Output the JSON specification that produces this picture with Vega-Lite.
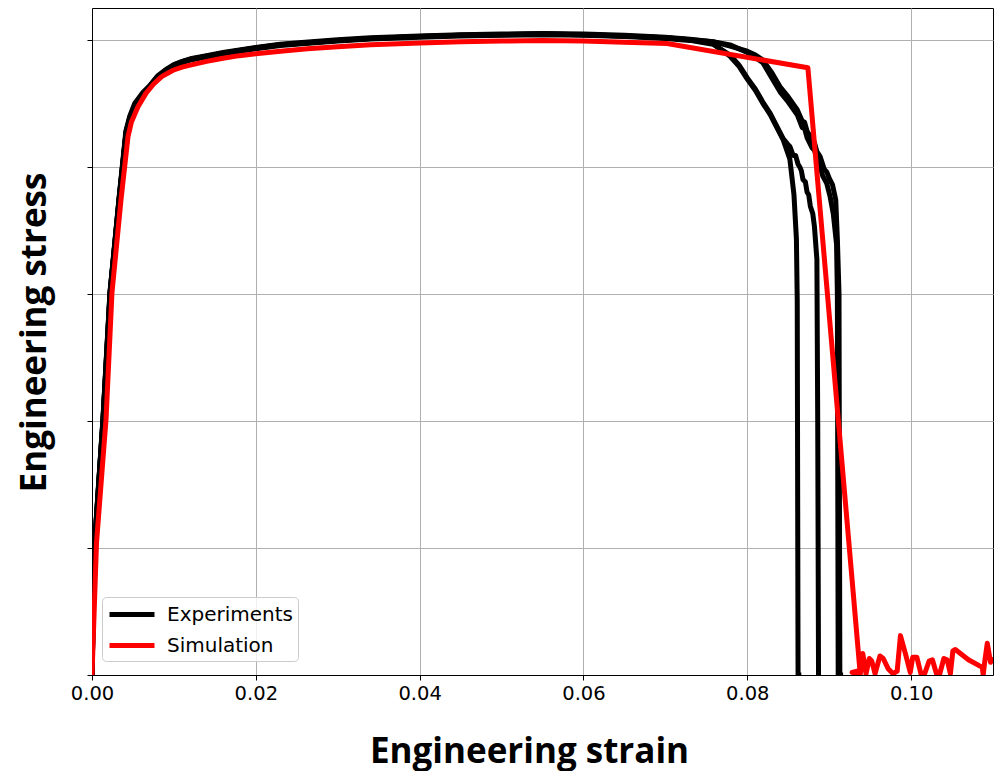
{
  "$schema": "https://vega.github.io/schema/vega-lite/v6.json",
  "width": 901,
  "height": 667,
  "autosize": {"type": "none"},
  "padding": {"left": 92, "top": 8, "right": 6, "bottom": 96},
  "background": "white",
  "config": {
    "view": {"stroke": "#000000", "strokeWidth": 1},
    "axis": {
      "domainColor": "#000000",
      "tickColor": "#000000",
      "gridColor": "#b0b0b0",
      "gridWidth": 1,
      "labelFont": "DejaVu Sans",
      "labelFontSize": 19.5,
      "labelColor": "#000000",
      "labelFlush": false,
      "titleFont": "Open Sans",
      "titleFontSize": 35,
      "titleFontWeight": "bold",
      "titleColor": "#000000"
    }
  },
  "data": {
    "values": [
      {"series": "Experiments", "run": "A", "order": 1, "strain": 0, "stress": 0},
      {"series": "Experiments", "run": "A", "order": 2, "strain": 0.00033, "stress": 104},
      {"series": "Experiments", "run": "A", "order": 3, "strain": 0.00134, "stress": 201},
      {"series": "Experiments", "run": "A", "order": 4, "strain": 0.0022, "stress": 301},
      {"series": "Experiments", "run": "A", "order": 5, "strain": 0.0033, "stress": 374},
      {"series": "Experiments", "run": "A", "order": 6, "strain": 0.00415, "stress": 427},
      {"series": "Experiments", "run": "A", "order": 7, "strain": 0.00464, "stress": 439},
      {"series": "Experiments", "run": "A", "order": 8, "strain": 0.00525, "stress": 449},
      {"series": "Experiments", "run": "A", "order": 9, "strain": 0.00623, "stress": 458},
      {"series": "Experiments", "run": "A", "order": 10, "strain": 0.007, "stress": 463},
      {"series": "Experiments", "run": "A", "order": 11, "strain": 0.008, "stress": 471},
      {"series": "Experiments", "run": "A", "order": 12, "strain": 0.009, "stress": 476},
      {"series": "Experiments", "run": "A", "order": 13, "strain": 0.01, "stress": 480},
      {"series": "Experiments", "run": "A", "order": 14, "strain": 0.011, "stress": 482.5},
      {"series": "Experiments", "run": "A", "order": 15, "strain": 0.012, "stress": 484.5},
      {"series": "Experiments", "run": "A", "order": 16, "strain": 0.014, "stress": 487},
      {"series": "Experiments", "run": "A", "order": 17, "strain": 0.016, "stress": 489.5},
      {"series": "Experiments", "run": "A", "order": 18, "strain": 0.018, "stress": 491.5},
      {"series": "Experiments", "run": "A", "order": 19, "strain": 0.02, "stress": 493.5},
      {"series": "Experiments", "run": "A", "order": 20, "strain": 0.023, "stress": 496},
      {"series": "Experiments", "run": "A", "order": 21, "strain": 0.026, "stress": 497.5},
      {"series": "Experiments", "run": "A", "order": 22, "strain": 0.03, "stress": 499.5},
      {"series": "Experiments", "run": "A", "order": 23, "strain": 0.034, "stress": 501},
      {"series": "Experiments", "run": "A", "order": 24, "strain": 0.04, "stress": 502.5},
      {"series": "Experiments", "run": "A", "order": 25, "strain": 0.045, "stress": 503.5},
      {"series": "Experiments", "run": "A", "order": 26, "strain": 0.05, "stress": 504},
      {"series": "Experiments", "run": "A", "order": 27, "strain": 0.055, "stress": 504.5},
      {"series": "Experiments", "run": "A", "order": 28, "strain": 0.06, "stress": 504},
      {"series": "Experiments", "run": "A", "order": 29, "strain": 0.065, "stress": 503},
      {"series": "Experiments", "run": "A", "order": 30, "strain": 0.07, "stress": 501.5},
      {"series": "Experiments", "run": "A", "order": 31, "strain": 0.073, "stress": 500},
      {"series": "Experiments", "run": "A", "order": 32, "strain": 0.0758, "stress": 497},
      {"series": "Experiments", "run": "A", "order": 33, "strain": 0.0779, "stress": 487},
      {"series": "Experiments", "run": "A", "order": 34, "strain": 0.079, "stress": 479},
      {"series": "Experiments", "run": "A", "order": 35, "strain": 0.08, "stress": 469},
      {"series": "Experiments", "run": "A", "order": 36, "strain": 0.081, "stress": 460},
      {"series": "Experiments", "run": "A", "order": 37, "strain": 0.0819, "stress": 450},
      {"series": "Experiments", "run": "A", "order": 38, "strain": 0.0828, "stress": 441},
      {"series": "Experiments", "run": "A", "order": 39, "strain": 0.0836, "stress": 431},
      {"series": "Experiments", "run": "A", "order": 40, "strain": 0.0844, "stress": 421},
      {"series": "Experiments", "run": "A", "order": 41, "strain": 0.0852, "stress": 406},
      {"series": "Experiments", "run": "A", "order": 42, "strain": 0.0857, "stress": 378},
      {"series": "Experiments", "run": "A", "order": 43, "strain": 0.086, "stress": 343},
      {"series": "Experiments", "run": "A", "order": 44, "strain": 0.0861, "stress": 295},
      {"series": "Experiments", "run": "A", "order": 45, "strain": 0.08615, "stress": 150},
      {"series": "Experiments", "run": "A", "order": 46, "strain": 0.0862, "stress": 0},
      {"series": "Experiments", "run": "A", "order": 47, "strain": 0.0866, "stress": 0},

      {"series": "Experiments", "run": "B", "order": 1, "strain": 0, "stress": 0},
      {"series": "Experiments", "run": "B", "order": 2, "strain": 0.00035, "stress": 105},
      {"series": "Experiments", "run": "B", "order": 3, "strain": 0.00136, "stress": 202},
      {"series": "Experiments", "run": "B", "order": 4, "strain": 0.00222, "stress": 301},
      {"series": "Experiments", "run": "B", "order": 5, "strain": 0.00332, "stress": 375},
      {"series": "Experiments", "run": "B", "order": 6, "strain": 0.00417, "stress": 427},
      {"series": "Experiments", "run": "B", "order": 7, "strain": 0.00466, "stress": 439},
      {"series": "Experiments", "run": "B", "order": 8, "strain": 0.00527, "stress": 448},
      {"series": "Experiments", "run": "B", "order": 9, "strain": 0.00625, "stress": 457.5},
      {"series": "Experiments", "run": "B", "order": 10, "strain": 0.007, "stress": 462.5},
      {"series": "Experiments", "run": "B", "order": 11, "strain": 0.008, "stress": 470.5},
      {"series": "Experiments", "run": "B", "order": 12, "strain": 0.009, "stress": 475.5},
      {"series": "Experiments", "run": "B", "order": 13, "strain": 0.01, "stress": 479.5},
      {"series": "Experiments", "run": "B", "order": 14, "strain": 0.011, "stress": 482},
      {"series": "Experiments", "run": "B", "order": 15, "strain": 0.012, "stress": 484},
      {"series": "Experiments", "run": "B", "order": 16, "strain": 0.014, "stress": 486.5},
      {"series": "Experiments", "run": "B", "order": 17, "strain": 0.016, "stress": 489},
      {"series": "Experiments", "run": "B", "order": 18, "strain": 0.018, "stress": 491},
      {"series": "Experiments", "run": "B", "order": 19, "strain": 0.02, "stress": 493},
      {"series": "Experiments", "run": "B", "order": 20, "strain": 0.023, "stress": 495.5},
      {"series": "Experiments", "run": "B", "order": 21, "strain": 0.026, "stress": 497},
      {"series": "Experiments", "run": "B", "order": 22, "strain": 0.03, "stress": 499},
      {"series": "Experiments", "run": "B", "order": 23, "strain": 0.034, "stress": 500.5},
      {"series": "Experiments", "run": "B", "order": 24, "strain": 0.04, "stress": 502},
      {"series": "Experiments", "run": "B", "order": 25, "strain": 0.045, "stress": 503},
      {"series": "Experiments", "run": "B", "order": 26, "strain": 0.05, "stress": 503.5},
      {"series": "Experiments", "run": "B", "order": 27, "strain": 0.055, "stress": 504},
      {"series": "Experiments", "run": "B", "order": 28, "strain": 0.06, "stress": 503.5},
      {"series": "Experiments", "run": "B", "order": 29, "strain": 0.065, "stress": 502.5},
      {"series": "Experiments", "run": "B", "order": 30, "strain": 0.07, "stress": 501},
      {"series": "Experiments", "run": "B", "order": 31, "strain": 0.073, "stress": 499.5},
      {"series": "Experiments", "run": "B", "order": 32, "strain": 0.0758, "stress": 496.5},
      {"series": "Experiments", "run": "B", "order": 33, "strain": 0.0779, "stress": 488},
      {"series": "Experiments", "run": "B", "order": 34, "strain": 0.079, "stress": 480},
      {"series": "Experiments", "run": "B", "order": 35, "strain": 0.08, "stress": 470},
      {"series": "Experiments", "run": "B", "order": 36, "strain": 0.081, "stress": 461},
      {"series": "Experiments", "run": "B", "order": 37, "strain": 0.0819, "stress": 451},
      {"series": "Experiments", "run": "B", "order": 38, "strain": 0.0828, "stress": 442},
      {"series": "Experiments", "run": "B", "order": 39, "strain": 0.0836, "stress": 432},
      {"series": "Experiments", "run": "B", "order": 40, "strain": 0.0844, "stress": 422},
      {"series": "Experiments", "run": "B", "order": 41, "strain": 0.0849, "stress": 418},
      {"series": "Experiments", "run": "B", "order": 42, "strain": 0.0852, "stress": 416},
      {"series": "Experiments", "run": "B", "order": 43, "strain": 0.0856, "stress": 409},
      {"series": "Experiments", "run": "B", "order": 44, "strain": 0.0859, "stress": 409},
      {"series": "Experiments", "run": "B", "order": 45, "strain": 0.0862, "stress": 402},
      {"series": "Experiments", "run": "B", "order": 46, "strain": 0.0864, "stress": 400},
      {"series": "Experiments", "run": "B", "order": 47, "strain": 0.0866, "stress": 397},
      {"series": "Experiments", "run": "B", "order": 48, "strain": 0.0868, "stress": 390},
      {"series": "Experiments", "run": "B", "order": 49, "strain": 0.0871, "stress": 388},
      {"series": "Experiments", "run": "B", "order": 50, "strain": 0.0873, "stress": 380},
      {"series": "Experiments", "run": "B", "order": 51, "strain": 0.0875, "stress": 378},
      {"series": "Experiments", "run": "B", "order": 52, "strain": 0.0877, "stress": 369},
      {"series": "Experiments", "run": "B", "order": 53, "strain": 0.088, "stress": 363},
      {"series": "Experiments", "run": "B", "order": 54, "strain": 0.0882, "stress": 353},
      {"series": "Experiments", "run": "B", "order": 55, "strain": 0.0885, "stress": 327},
      {"series": "Experiments", "run": "B", "order": 56, "strain": 0.0886, "stress": 200},
      {"series": "Experiments", "run": "B", "order": 57, "strain": 0.0887, "stress": 0},
      {"series": "Experiments", "run": "B", "order": 58, "strain": 0.089, "stress": 0},

      {"series": "Experiments", "run": "C", "order": 1, "strain": 0, "stress": 0},
      {"series": "Experiments", "run": "C", "order": 2, "strain": 0.00031, "stress": 103},
      {"series": "Experiments", "run": "C", "order": 3, "strain": 0.00132, "stress": 200},
      {"series": "Experiments", "run": "C", "order": 4, "strain": 0.00218, "stress": 300},
      {"series": "Experiments", "run": "C", "order": 5, "strain": 0.00328, "stress": 374},
      {"series": "Experiments", "run": "C", "order": 6, "strain": 0.00413, "stress": 428},
      {"series": "Experiments", "run": "C", "order": 7, "strain": 0.00462, "stress": 440},
      {"series": "Experiments", "run": "C", "order": 8, "strain": 0.00523, "stress": 450},
      {"series": "Experiments", "run": "C", "order": 9, "strain": 0.00621, "stress": 458.5},
      {"series": "Experiments", "run": "C", "order": 10, "strain": 0.007, "stress": 463.5},
      {"series": "Experiments", "run": "C", "order": 11, "strain": 0.008, "stress": 471.5},
      {"series": "Experiments", "run": "C", "order": 12, "strain": 0.009, "stress": 476.5},
      {"series": "Experiments", "run": "C", "order": 13, "strain": 0.01, "stress": 480.5},
      {"series": "Experiments", "run": "C", "order": 14, "strain": 0.011, "stress": 483},
      {"series": "Experiments", "run": "C", "order": 15, "strain": 0.012, "stress": 485},
      {"series": "Experiments", "run": "C", "order": 16, "strain": 0.014, "stress": 487.5},
      {"series": "Experiments", "run": "C", "order": 17, "strain": 0.016, "stress": 490},
      {"series": "Experiments", "run": "C", "order": 18, "strain": 0.018, "stress": 492},
      {"series": "Experiments", "run": "C", "order": 19, "strain": 0.02, "stress": 494},
      {"series": "Experiments", "run": "C", "order": 20, "strain": 0.023, "stress": 496.5},
      {"series": "Experiments", "run": "C", "order": 21, "strain": 0.026, "stress": 498},
      {"series": "Experiments", "run": "C", "order": 22, "strain": 0.03, "stress": 500},
      {"series": "Experiments", "run": "C", "order": 23, "strain": 0.034, "stress": 501.5},
      {"series": "Experiments", "run": "C", "order": 24, "strain": 0.04, "stress": 503},
      {"series": "Experiments", "run": "C", "order": 25, "strain": 0.045, "stress": 504},
      {"series": "Experiments", "run": "C", "order": 26, "strain": 0.05, "stress": 504.5},
      {"series": "Experiments", "run": "C", "order": 27, "strain": 0.055, "stress": 505},
      {"series": "Experiments", "run": "C", "order": 28, "strain": 0.06, "stress": 504.5},
      {"series": "Experiments", "run": "C", "order": 29, "strain": 0.065, "stress": 503.5},
      {"series": "Experiments", "run": "C", "order": 30, "strain": 0.07, "stress": 502},
      {"series": "Experiments", "run": "C", "order": 31, "strain": 0.073, "stress": 500.5},
      {"series": "Experiments", "run": "C", "order": 32, "strain": 0.0758, "stress": 498.5},
      {"series": "Experiments", "run": "C", "order": 33, "strain": 0.0779, "stress": 495},
      {"series": "Experiments", "run": "C", "order": 34, "strain": 0.08, "stress": 491},
      {"series": "Experiments", "run": "C", "order": 35, "strain": 0.081, "stress": 488},
      {"series": "Experiments", "run": "C", "order": 36, "strain": 0.0819, "stress": 484},
      {"series": "Experiments", "run": "C", "order": 37, "strain": 0.083, "stress": 474},
      {"series": "Experiments", "run": "C", "order": 38, "strain": 0.084, "stress": 463},
      {"series": "Experiments", "run": "C", "order": 39, "strain": 0.085, "stress": 455},
      {"series": "Experiments", "run": "C", "order": 40, "strain": 0.0861, "stress": 445},
      {"series": "Experiments", "run": "C", "order": 41, "strain": 0.0867, "stress": 436},
      {"series": "Experiments", "run": "C", "order": 42, "strain": 0.087, "stress": 435},
      {"series": "Experiments", "run": "C", "order": 43, "strain": 0.0873, "stress": 428},
      {"series": "Experiments", "run": "C", "order": 44, "strain": 0.0879, "stress": 422},
      {"series": "Experiments", "run": "C", "order": 45, "strain": 0.0882, "stress": 419},
      {"series": "Experiments", "run": "C", "order": 46, "strain": 0.0885, "stress": 412},
      {"series": "Experiments", "run": "C", "order": 47, "strain": 0.0889, "stress": 408},
      {"series": "Experiments", "run": "C", "order": 48, "strain": 0.0894, "stress": 398},
      {"series": "Experiments", "run": "C", "order": 49, "strain": 0.0897, "stress": 396},
      {"series": "Experiments", "run": "C", "order": 50, "strain": 0.09, "stress": 391},
      {"series": "Experiments", "run": "C", "order": 51, "strain": 0.0904, "stress": 386},
      {"series": "Experiments", "run": "C", "order": 52, "strain": 0.0908, "stress": 374},
      {"series": "Experiments", "run": "C", "order": 53, "strain": 0.091, "stress": 343},
      {"series": "Experiments", "run": "C", "order": 54, "strain": 0.0912, "stress": 300},
      {"series": "Experiments", "run": "C", "order": 55, "strain": 0.0913, "stress": 0},
      {"series": "Experiments", "run": "C", "order": 56, "strain": 0.0917, "stress": 0},

      {"series": "Experiments", "run": "D", "order": 1, "strain": 0, "stress": 0},
      {"series": "Experiments", "run": "D", "order": 2, "strain": 0.00034, "stress": 104},
      {"series": "Experiments", "run": "D", "order": 3, "strain": 0.00135, "stress": 201},
      {"series": "Experiments", "run": "D", "order": 4, "strain": 0.00221, "stress": 301},
      {"series": "Experiments", "run": "D", "order": 5, "strain": 0.00331, "stress": 374},
      {"series": "Experiments", "run": "D", "order": 6, "strain": 0.00416, "stress": 427},
      {"series": "Experiments", "run": "D", "order": 7, "strain": 0.00465, "stress": 439},
      {"series": "Experiments", "run": "D", "order": 8, "strain": 0.00526, "stress": 449},
      {"series": "Experiments", "run": "D", "order": 9, "strain": 0.00624, "stress": 458},
      {"series": "Experiments", "run": "D", "order": 10, "strain": 0.007, "stress": 463},
      {"series": "Experiments", "run": "D", "order": 11, "strain": 0.008, "stress": 471},
      {"series": "Experiments", "run": "D", "order": 12, "strain": 0.009, "stress": 476},
      {"series": "Experiments", "run": "D", "order": 13, "strain": 0.01, "stress": 480},
      {"series": "Experiments", "run": "D", "order": 14, "strain": 0.011, "stress": 482.5},
      {"series": "Experiments", "run": "D", "order": 15, "strain": 0.012, "stress": 484.5},
      {"series": "Experiments", "run": "D", "order": 16, "strain": 0.014, "stress": 487},
      {"series": "Experiments", "run": "D", "order": 17, "strain": 0.016, "stress": 489.5},
      {"series": "Experiments", "run": "D", "order": 18, "strain": 0.018, "stress": 491.5},
      {"series": "Experiments", "run": "D", "order": 19, "strain": 0.02, "stress": 493.5},
      {"series": "Experiments", "run": "D", "order": 20, "strain": 0.023, "stress": 496},
      {"series": "Experiments", "run": "D", "order": 21, "strain": 0.026, "stress": 497.5},
      {"series": "Experiments", "run": "D", "order": 22, "strain": 0.03, "stress": 499.5},
      {"series": "Experiments", "run": "D", "order": 23, "strain": 0.034, "stress": 501},
      {"series": "Experiments", "run": "D", "order": 24, "strain": 0.04, "stress": 502.5},
      {"series": "Experiments", "run": "D", "order": 25, "strain": 0.045, "stress": 503.5},
      {"series": "Experiments", "run": "D", "order": 26, "strain": 0.05, "stress": 504},
      {"series": "Experiments", "run": "D", "order": 27, "strain": 0.055, "stress": 504.5},
      {"series": "Experiments", "run": "D", "order": 28, "strain": 0.06, "stress": 504},
      {"series": "Experiments", "run": "D", "order": 29, "strain": 0.065, "stress": 503},
      {"series": "Experiments", "run": "D", "order": 30, "strain": 0.07, "stress": 501.5},
      {"series": "Experiments", "run": "D", "order": 31, "strain": 0.073, "stress": 500},
      {"series": "Experiments", "run": "D", "order": 32, "strain": 0.0758, "stress": 498.5},
      {"series": "Experiments", "run": "D", "order": 33, "strain": 0.0779, "stress": 496},
      {"series": "Experiments", "run": "D", "order": 34, "strain": 0.08, "stress": 490},
      {"series": "Experiments", "run": "D", "order": 35, "strain": 0.081, "stress": 486},
      {"series": "Experiments", "run": "D", "order": 36, "strain": 0.0819, "stress": 482},
      {"series": "Experiments", "run": "D", "order": 37, "strain": 0.083, "stress": 470},
      {"series": "Experiments", "run": "D", "order": 38, "strain": 0.084, "stress": 459},
      {"series": "Experiments", "run": "D", "order": 39, "strain": 0.085, "stress": 451},
      {"series": "Experiments", "run": "D", "order": 40, "strain": 0.0861, "stress": 441},
      {"series": "Experiments", "run": "D", "order": 41, "strain": 0.0867, "stress": 431},
      {"series": "Experiments", "run": "D", "order": 42, "strain": 0.087, "stress": 430},
      {"series": "Experiments", "run": "D", "order": 43, "strain": 0.0873, "stress": 423},
      {"series": "Experiments", "run": "D", "order": 44, "strain": 0.0879, "stress": 415},
      {"series": "Experiments", "run": "D", "order": 45, "strain": 0.0882, "stress": 413},
      {"series": "Experiments", "run": "D", "order": 46, "strain": 0.0885, "stress": 407},
      {"series": "Experiments", "run": "D", "order": 47, "strain": 0.0889, "stress": 400},
      {"series": "Experiments", "run": "D", "order": 48, "strain": 0.0892, "stress": 393},
      {"series": "Experiments", "run": "D", "order": 49, "strain": 0.0897, "stress": 387},
      {"series": "Experiments", "run": "D", "order": 50, "strain": 0.0901, "stress": 377},
      {"series": "Experiments", "run": "D", "order": 51, "strain": 0.0905, "stress": 363},
      {"series": "Experiments", "run": "D", "order": 52, "strain": 0.0909, "stress": 339},
      {"series": "Experiments", "run": "D", "order": 53, "strain": 0.091, "stress": 300},
      {"series": "Experiments", "run": "D", "order": 54, "strain": 0.0911, "stress": 0},
      {"series": "Experiments", "run": "D", "order": 55, "strain": 0.0914, "stress": 0},

      {"series": "Simulation", "run": "S", "order": 1, "strain": 0, "stress": 0},
      {"series": "Simulation", "run": "S", "order": 2, "strain": 0.00055, "stress": 104},
      {"series": "Simulation", "run": "S", "order": 3, "strain": 0.00171, "stress": 201},
      {"series": "Simulation", "run": "S", "order": 4, "strain": 0.00244, "stress": 301},
      {"series": "Simulation", "run": "S", "order": 5, "strain": 0.00354, "stress": 374},
      {"series": "Simulation", "run": "S", "order": 6, "strain": 0.0044, "stress": 424},
      {"series": "Simulation", "run": "S", "order": 7, "strain": 0.0048, "stress": 435},
      {"series": "Simulation", "run": "S", "order": 8, "strain": 0.0056, "stress": 447},
      {"series": "Simulation", "run": "S", "order": 9, "strain": 0.0066, "stress": 458},
      {"series": "Simulation", "run": "S", "order": 10, "strain": 0.0075, "stress": 465},
      {"series": "Simulation", "run": "S", "order": 11, "strain": 0.0085, "stress": 471},
      {"series": "Simulation", "run": "S", "order": 12, "strain": 0.0099, "stress": 476},
      {"series": "Simulation", "run": "S", "order": 13, "strain": 0.011, "stress": 478.5},
      {"series": "Simulation", "run": "S", "order": 14, "strain": 0.012, "stress": 480},
      {"series": "Simulation", "run": "S", "order": 15, "strain": 0.014, "stress": 483},
      {"series": "Simulation", "run": "S", "order": 16, "strain": 0.016, "stress": 485.5},
      {"series": "Simulation", "run": "S", "order": 17, "strain": 0.018, "stress": 487.5},
      {"series": "Simulation", "run": "S", "order": 18, "strain": 0.02, "stress": 489},
      {"series": "Simulation", "run": "S", "order": 19, "strain": 0.023, "stress": 491},
      {"series": "Simulation", "run": "S", "order": 20, "strain": 0.0263, "stress": 493},
      {"series": "Simulation", "run": "S", "order": 21, "strain": 0.03, "stress": 494.5},
      {"series": "Simulation", "run": "S", "order": 22, "strain": 0.034, "stress": 496},
      {"series": "Simulation", "run": "S", "order": 23, "strain": 0.04, "stress": 497.5},
      {"series": "Simulation", "run": "S", "order": 24, "strain": 0.045, "stress": 498.5},
      {"series": "Simulation", "run": "S", "order": 25, "strain": 0.05, "stress": 499},
      {"series": "Simulation", "run": "S", "order": 26, "strain": 0.055, "stress": 499.5},
      {"series": "Simulation", "run": "S", "order": 27, "strain": 0.06, "stress": 499},
      {"series": "Simulation", "run": "S", "order": 28, "strain": 0.065, "stress": 498},
      {"series": "Simulation", "run": "S", "order": 29, "strain": 0.0702, "stress": 497},
      {"series": "Simulation", "run": "S", "order": 30, "strain": 0.0874, "stress": 478},
      {"series": "Simulation", "run": "S", "order": 31, "strain": 0.0938, "stress": 0},
      {"series": "Simulation", "run": "S", "order": 32, "strain": 0.0928, "stress": 2},
      {"series": "Simulation", "run": "S", "order": 33, "strain": 0.0934, "stress": 3},
      {"series": "Simulation", "run": "S", "order": 34, "strain": 0.0938, "stress": 1},
      {"series": "Simulation", "run": "S", "order": 35, "strain": 0.0941, "stress": 17},
      {"series": "Simulation", "run": "S", "order": 36, "strain": 0.0945, "stress": 1},
      {"series": "Simulation", "run": "S", "order": 37, "strain": 0.0949, "stress": 13},
      {"series": "Simulation", "run": "S", "order": 38, "strain": 0.0952, "stress": 11},
      {"series": "Simulation", "run": "S", "order": 39, "strain": 0.0956, "stress": 1},
      {"series": "Simulation", "run": "S", "order": 40, "strain": 0.0962, "stress": 15},
      {"series": "Simulation", "run": "S", "order": 41, "strain": 0.0966, "stress": 13},
      {"series": "Simulation", "run": "S", "order": 42, "strain": 0.0972, "stress": 5},
      {"series": "Simulation", "run": "S", "order": 43, "strain": 0.0978, "stress": 1},
      {"series": "Simulation", "run": "S", "order": 44, "strain": 0.0983, "stress": 3},
      {"series": "Simulation", "run": "S", "order": 45, "strain": 0.0987, "stress": 31},
      {"series": "Simulation", "run": "S", "order": 46, "strain": 0.0993, "stress": 17},
      {"series": "Simulation", "run": "S", "order": 47, "strain": 0.0999, "stress": 2},
      {"series": "Simulation", "run": "S", "order": 48, "strain": 0.1002, "stress": 14},
      {"series": "Simulation", "run": "S", "order": 49, "strain": 0.1007, "stress": 14},
      {"series": "Simulation", "run": "S", "order": 50, "strain": 0.1012, "stress": 1},
      {"series": "Simulation", "run": "S", "order": 51, "strain": 0.1016, "stress": 0},
      {"series": "Simulation", "run": "S", "order": 52, "strain": 0.1022, "stress": 11},
      {"series": "Simulation", "run": "S", "order": 53, "strain": 0.1026, "stress": 12},
      {"series": "Simulation", "run": "S", "order": 54, "strain": 0.1031, "stress": 1},
      {"series": "Simulation", "run": "S", "order": 55, "strain": 0.1035, "stress": 1},
      {"series": "Simulation", "run": "S", "order": 56, "strain": 0.104, "stress": 13},
      {"series": "Simulation", "run": "S", "order": 57, "strain": 0.1044, "stress": 12},
      {"series": "Simulation", "run": "S", "order": 58, "strain": 0.1048, "stress": 1},
      {"series": "Simulation", "run": "S", "order": 59, "strain": 0.1051, "stress": 19},
      {"series": "Simulation", "run": "S", "order": 60, "strain": 0.1054, "stress": 20},
      {"series": "Simulation", "run": "S", "order": 61, "strain": 0.107, "stress": 12},
      {"series": "Simulation", "run": "S", "order": 62, "strain": 0.1087, "stress": 6},
      {"series": "Simulation", "run": "S", "order": 63, "strain": 0.1088, "stress": 0},
      {"series": "Simulation", "run": "S", "order": 64, "strain": 0.109, "stress": 11},
      {"series": "Simulation", "run": "S", "order": 65, "strain": 0.1093, "stress": 25},
      {"series": "Simulation", "run": "S", "order": 66, "strain": 0.1097, "stress": 10},
      {"series": "Simulation", "run": "S", "order": 67, "strain": 0.11, "stress": 14}
    ]
  },
  "mark": {
    "type": "line",
    "strokeWidth": 5,
    "strokeJoin": "round",
    "strokeCap": "butt",
    "clip": true
  },
  "encoding": {
    "x": {
      "field": "strain",
      "type": "quantitative",
      "scale": {"domain": [0, 0.11], "nice": false, "zero": false},
      "axis": {
        "title": "Engineering strain",
        "values": [0, 0.02, 0.04, 0.06, 0.08, 0.1],
        "format": ".2f",
        "tickSize": 5,
        "labelPadding": 4,
        "titleX": 437,
        "titleY": 87,
        "titleBaseline": "alphabetic"
      }
    },
    "y": {
      "field": "stress",
      "type": "quantitative",
      "scale": {"domain": [0, 525], "nice": false, "zero": false},
      "axis": {
        "title": "Engineering stress",
        "values": [0, 100, 200, 300, 400, 500],
        "labels": false,
        "tickSize": 5,
        "titleAngle": 270,
        "titleX": -47,
        "titleY": 324,
        "titleAlign": "center",
        "titleBaseline": "alphabetic"
      }
    },
    "color": {
      "field": "series",
      "type": "nominal",
      "scale": {"domain": ["Experiments", "Simulation"], "range": ["#000000", "#ff0000"]},
      "legend": {
        "title": null,
        "orient": "none",
        "legendX": 10,
        "legendY": 589,
        "symbolType": "M-1,0H3.5",
        "symbolSize": 400,
        "symbolStrokeWidth": 5,
        "labelFont": "DejaVu Sans",
        "labelFontSize": 20,
        "labelColor": "#000000",
        "labelOffset": 35,
        "rowPadding": 8,
        "padding": 5,
        "fillColor": "rgba(255,255,255,0.8)",
        "strokeColor": "#cccccc",
        "cornerRadius": 4
      }
    },
    "detail": {"field": "run", "type": "nominal"},
    "order": {"field": "order", "type": "quantitative"}
  }
}
